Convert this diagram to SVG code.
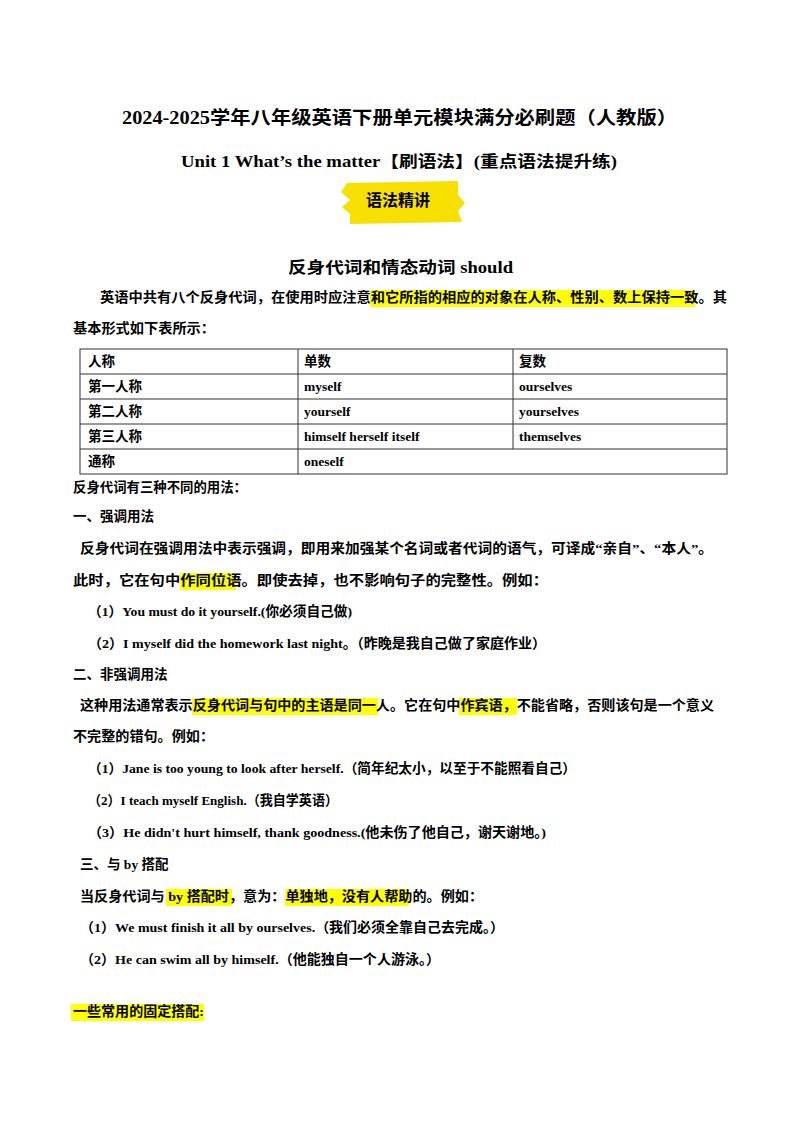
<svg xmlns="http://www.w3.org/2000/svg" width="800" height="1132" viewBox="0 0 800 1132">
<style>
text{font-family:"Liberation Serif","Noto Sans CJK SC",serif;font-weight:bold;font-size:13.5px;fill:#000}
.t{font-size:18px}.s{font-size:16px}
.hl{fill:#ffff00}
.g line{stroke:#333;stroke-width:1}
</style>
<rect width="800" height="1132" fill="#fff"/>
<text class="t" x="122" y="124" textLength="555" lengthAdjust="spacingAndGlyphs">2024-2025学年八年级英语下册单元模块满分必刷题（人教版）</text>
<text class="s" x="181" y="167" textLength="436" lengthAdjust="spacingAndGlyphs">Unit 1 What’s the matter【刷语法】(重点语法提升练)</text>
<g id="badge">
<polygon points="347,183 458,181 458,195 465,203 458,211 462,222 350,224 350,214 342,207 350,200 341,192" fill="#f7e000"/>
<text class="s" x="398" y="206" text-anchor="middle">语法精讲</text>
</g>
<text class="s" x="288" y="273" textLength="225" lengthAdjust="spacingAndGlyphs">反身代词和情态动词 should</text>
<rect class="hl" x="370" y="290" width="325" height="17"/>
<text x="100" y="302" textLength="627" lengthAdjust="spacingAndGlyphs">英语中共有八个反身代词，在使用时应注意和它所指的相应的对象在人称、性别、数上保持一致。其</text>
<text x="73" y="333" textLength="142" lengthAdjust="spacingAndGlyphs">基本形式如下表所示：</text>
<g id="table" class="g">
<rect x="80" y="349" width="647" height="125" fill="none" stroke="#333"/>
<line x1="80" y1="374" x2="727" y2="374"/><line x1="80" y1="399" x2="727" y2="399"/>
<line x1="80" y1="424" x2="727" y2="424"/><line x1="80" y1="449" x2="727" y2="449"/>
<line x1="298" y1="349" x2="298" y2="474"/><line x1="513" y1="349" x2="513" y2="449"/>
<text x="88" y="366">人称</text><text x="304" y="366">单数</text><text x="519" y="366">复数</text>
<text x="88" y="391">第一人称</text><text x="304" y="391">myself</text><text x="519" y="391">ourselves</text>
<text x="88" y="416">第二人称</text><text x="304" y="416">yourself</text><text x="519" y="416">yourselves</text>
<text x="88" y="441">第三人称</text><text x="304" y="441">himself herself itself</text><text x="519" y="441">themselves</text>
<text x="88" y="466">通称</text><text x="304" y="466">oneself</text>
</g>
<text x="73" y="492" textLength="174" lengthAdjust="spacingAndGlyphs">反身代词有三种不同的用法：</text>
<text x="73" y="521">一、强调用法</text>
<text x="80" y="553" textLength="633" lengthAdjust="spacingAndGlyphs">反身代词在强调用法中表示强调，即用来加强某个名词或者代词的语气，可译成“亲自”、“本人”。</text>
<rect class="hl" x="180" y="573" width="56" height="17"/>
<text x="73" y="585" textLength="475" lengthAdjust="spacingAndGlyphs">此时，它在句中作同位语。即使去掉，也不影响句子的完整性。例如：</text>
<text x="88" y="616" textLength="264" lengthAdjust="spacingAndGlyphs">（1）You must do it yourself.(你必须自己做)</text>
<text x="88" y="648" textLength="458" lengthAdjust="spacingAndGlyphs">（2）I myself did the homework last night。（昨晚是我自己做了家庭作业）</text>
<text x="73" y="679">二、非强调用法</text>
<rect class="hl" x="192" y="698" width="186" height="17"/>
<rect class="hl" x="459" y="698" width="58" height="17"/>
<text x="80" y="710" textLength="634" lengthAdjust="spacingAndGlyphs">这种用法通常表示反身代词与句中的主语是同一人。它在句中作宾语，不能省略，否则该句是一个意义</text>
<text x="73" y="741" textLength="141" lengthAdjust="spacingAndGlyphs">不完整的错句。例如：</text>
<text x="88" y="773" textLength="488" lengthAdjust="spacingAndGlyphs">（1）Jane is too young to look after herself.（简年纪太小，以至于不能照看自己）</text>
<text x="88" y="805" textLength="250" lengthAdjust="spacingAndGlyphs">（2）I teach myself English.（我自学英语）</text>
<text x="88" y="837" textLength="458" lengthAdjust="spacingAndGlyphs">（3）He didn't hurt himself, thank goodness.(他未伤了他自己，谢天谢地。)</text>
<text x="80" y="869">三、与 by 搭配</text>
<rect class="hl" x="166" y="889" width="66" height="17"/>
<rect class="hl" x="285" y="889" width="124" height="17"/>
<text x="80" y="901" textLength="403" lengthAdjust="spacingAndGlyphs">当反身代词与 by 搭配时，意为：单独地，没有人帮助的。例如：</text>
<text x="80" y="932" textLength="424" lengthAdjust="spacingAndGlyphs">（1）We must finish it all by ourselves.（我们必须全靠自己去完成。）</text>
<text x="80" y="964" textLength="360" lengthAdjust="spacingAndGlyphs">（2）He can swim all by himself.（他能独自一个人游泳。）</text>
<rect class="hl" x="71" y="1004" width="133" height="17"/>
<text x="73" y="1016" textLength="131" lengthAdjust="spacingAndGlyphs">一些常用的固定搭配:</text>
</svg>
